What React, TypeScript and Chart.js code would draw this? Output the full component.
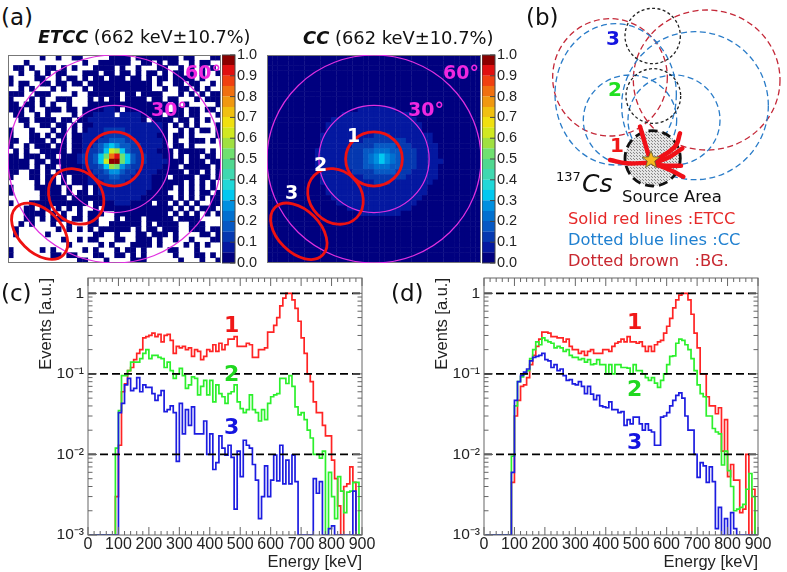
import React, { useEffect, useRef } from "react";
import { Chart, registerables } from "chart.js";

Chart.register(...registerables);

const binCenters = Array.from({ length: 90 }, (_, i) => i * 10 + 5);

const cRed = [.001,.001,.001,.001,.001,.001,.001,.001,.001,.003,.013,.06,.075,.11,.12,.15,.18,.2,.28,.29,.3,.32,.29,.31,.25,.3,.31,.26,.18,.22,.21,.22,.2,.21,.165,.2,.19,.15,.165,.2,.19,.23,.19,.24,.2,.23,.27,.27,.29,.22,.22,.22,.24,.23,.16,.16,.2,.2,.21,.33,.33,.4,.5,.7,.87,1,1,.83,.65,.45,.28,.18,.1,.08,.045,.033,.033,.023,.017,.017,.0085,.005,.0023,.001,.004,.0043,.007,.0045,.001,.001];
const cGreen = [.001,.001,.001,.001,.001,.001,.001,.001,.001,.012,.035,.095,.095,.11,.14,.14,.14,.155,.18,.2,.155,.17,.17,.16,.155,.12,.14,.11,.088,.1,.117,.095,.066,.073,.092,.088,.055,.07,.083,.055,.083,.045,.073,.057,.052,.043,.057,.06,.073,.045,.037,.033,.036,.055,.036,.033,.026,.036,.027,.043,.052,.055,.057,.088,.088,.076,.095,.07,.039,.031,.033,.027,.02,.016,.01,.01,.009,.011,.001,.006,.003,.0016,.0053,.0035,.0019,.0034,.0035,.0045,.0045,.001];
const cBlue = [.001,.001,.001,.001,.001,.001,.001,.001,.001,.001,.033,.043,.073,.088,.062,.066,.09,.06,.073,.068,.068,.057,.047,.054,.062,.034,.036,.04,.033,.0082,.043,.018,.036,.023,.039,.018,.018,.018,.026,.01,.018,.0065,.0079,.017,.012,.0098,.013,.0092,.0021,.011,.0053,.015,.013,.012,.0075,.0048,.0016,.003,.0072,.003,.0048,.0098,.0047,.013,.0043,.0085,.0043,.0098,.0046,.001,.001,.001,.001,.001,.005,.0033,.0046,.001,.001,.0012,.0013,.001,.001,.001,.001,.001,.001,.0035,.001,.001];

const dRed = [.001,.001,.001,.001,.001,.001,.001,.001,.001,.0045,.03,.047,.07,.073,.09,.13,.17,.22,.27,.33,.33,.32,.29,.29,.28,.28,.25,.27,.22,.2,.2,.18,.19,.17,.19,.2,.18,.18,.18,.2,.2,.19,.22,.24,.25,.27,.25,.29,.25,.25,.24,.25,.22,.19,.22,.19,.23,.25,.26,.32,.39,.49,.66,.83,.95,1,1,.83,.55,.32,.21,.1,.1,.052,.04,.04,.032,.038,.011,.027,.0053,.0075,.0048,.0048,.0019,.0021,.01,.001,.0037,.001];
const dGreen = [.001,.001,.001,.001,.001,.001,.001,.001,.001,.0095,.04,.08,.092,.1,.11,.155,.2,.25,.23,.28,.26,.25,.24,.21,.22,.21,.19,.2,.17,.16,.16,.15,.155,.14,.15,.13,.133,.15,.13,.13,.1,.13,.1,.13,.13,.12,.12,.118,.1,.13,.11,.11,.1,.09,.083,.09,.077,.068,.083,.1,.13,.165,.167,.24,.27,.26,.23,.2,.155,.11,.073,.057,.052,.03,.03,.021,.019,.018,.0074,.011,.0063,.004,.002,.0021,.0022,.0024,.0037,.0058,.003,.001];
const dBlue = [.001,.001,.001,.001,.001,.001,.001,.001,.001,.006,.047,.08,.096,.105,.115,.145,.16,.165,.17,.18,.15,.145,.12,.13,.11,.115,.095,.083,.085,.075,.073,.08,.07,.057,.07,.056,.048,.054,.04,.039,.038,.045,.036,.036,.033,.034,.023,.027,.024,.029,.029,.024,.02,.024,.02,.019,.013,.013,.029,.03,.033,.04,.047,.054,.058,.05,.03,.02,.02,.01,.0052,.0079,.0072,.0045,.007,.0046,.0012,.0022,.001,.0016,.001,.0019,.0012,.001,.001,.001,.001,.001,.001,.001];

const refLevels = [1, 0.1, 0.01];
const yDecades = [0.001, 0.01, 0.1, 1];
const yDecadeLabels = ["10\u207B\u00B3", "10\u207B\u00B2", "10\u207B\u00B9", "1"];
const xMajor = [0, 100, 200, 300, 400, 500, 600, 700, 800, 900];

const palette = ["#00007f","#0418a0","#0538b0","#0658c4","#0070d0","#0090e0","#00c8f0","#20d8d8","#40d8b0","#50d890","#70e070","#a0e040","#d0e820","#f0e010","#f0c010","#f09810","#f07010","#f04010","#e01010","#8b0000"];

const etccRows = [
  "......0..0..00.....0000.00000000.00...00",
  "...0..........0..000000..00.0.00..0.00..",
  ".00.0..00.0.0...0000.0..0...00..0.0.0.0.",
  "..0..0.0.00...000.00.00.0.00.0.00.0.0..0",
  "0....00..0.00.0.00.000.00.0.00.0000.0...",
  "0.00..00.00.00.000000000000.0..00.00..0.",
  "..0.0...0.0...0.00000000000..0..00.0.0..",
  "000..000....0..000000.00.0000...0.0.0.00",
  "0...0.0..000...0.0.00.0000.00.00...0.000",
  "00.00.0.0..0...000000000000000.0.0.....0",
  "000.0..000.00.0000110.00000000.00.00.00.",
  ".00..0.0....0.001111.11110000.000.00...0",
  "..00.0000.00.0011111111110.0000.00.0.0..",
  "...0..00.00.0.0011111111111110.0.0.0...0",
  "0...0...0.0.0.0111222211111110..0.0.00.0",
  "0...00.0.00.001111222221111100.00.0....0",
  "00..000.0.0.001112233322111110.0..000.0.",
  "0..0.000.00.001123565332211110.00.0.....",
  ".0.0..00000.0012236cb6322111000.00000.0.",
  "00.000.00.00012236agia63221110 0.0.00.00.",
  "0000.00.0000012236cjja63221111000.000.00",
  "0000.0.00.000012236ba53221111000.00000.0",
  "00..00.0.00000012235532211110 0000.00.0.0",
  "0...00.00.0.000112233221111000.0000.00.0",
  ".....0.00.0.000111222211111000000.0.0.0.",
  "0....00000.0..0.011111111110000.0.0.0.0.",
  "0.....0000.0.00.01111111110000..0.0.00.0",
  "......00000.0000001111111000000.0.0.0.00",
  "0...00000000000.00001110000.00.0.0.0..00",
  "...00.00.0.0.0..0.0000000000000.0.0.000.",
  "...0000.0.0..0.000..0000000000.0.0.0.0.0",
  "...00.0.000.00.00...0.000.00000.0000....",
  "..0.0...0..0...00..000000.0.0000..000...",
  ".0.......0.0.0.0.000000.0.00.000..000.00",
  ".0.....0........00..0...00.000.0....00.0",
  "..........0..0.00...00..000.0..0..0...00",
  "...........0.....0.0...0000.0....0.0.0..",
  "0.....0.0.....0.0...0.00.0....00...0....",
  "0.......00.00...00..00.0.0.....0...00.0.",
  ".............00...0....000......0...0..0",
].map((r) => r.replace(/ /g, ""));

const ccFaint = "0000000000000000000000000000000000000000";
const ccRows = [
  ccFaint, ccFaint, ccFaint, ccFaint, ccFaint, ccFaint, ccFaint, ccFaint, ccFaint, ccFaint,
  "0000000000000000011111110000000000000000",
  "0000000000000011111111111110000000000000",
  "0000000000001111111111111111000000000000",
  "0000000000011111111111111111100000000000",
  "0000000000011111111111111111100000000000",
  "0000000000111111111122211111111000000000",
  "0000000000111111112222222211111000000000",
  "0000000000111111222233332221111100000000",
  "0000000001111112223344433222111100000000",
  "0000000001111112223456543222111100000000",
  "0000000001111112223456543222111110000000",
  "0000000001111112223344433222111100000000",
  "0000000000111111222233332221111100000000",
  "0000000000111111112222222211111100000000",
  "0000000000111111111122211111111000000000",
  "0000000000011111111111111111110000000000",
  "0000000000011111111111111111110000000000",
  "0000000000001111111111111111100000000000",
  "0000000000000111111111111111000000000000",
  "0000000000000001111111111110000000000000",
  "0000000000000000011111111000000000000000",
  ccFaint, ccFaint, ccFaint, ccFaint, ccFaint, ccFaint, ccFaint, ccFaint, ccFaint,
];

// cx, cy, rx, ry, rotation (deg) in heat-map cell units
const magentaRings = [[20, 20, 20, 20, 0], [20, 20, 10.3, 10.3, 0]];
const redRings = [[20, 20, 5.3, 5.2, 0], [12.8, 12.8, 5.6, 4.9, 45], [5.95, 6.1, 6.3, 4.1, 45]];

// panel (b) shapes, in the panel's own units
const brownRings = [[270, 232, 172, 176], [560, 240, 220, 210]];
const blueRings = [[287, 283, 182, 212], [525, 317, 220, 222], [330, 360, 140, 135], [462, 360, 138, 135]];
const blackRings = [[398, 108, 83, 83], [400, 288, 82, 82]];
const sourceArea = [398, 475, 83];
const starSpot = [393, 480, 28];
const tracks = [
  [[270, 480], [320, 490], [385, 488]],
  [[360, 380], [375, 430], [390, 480]],
  [[480, 400], [465, 440], [400, 485]],
  [[487, 445], [450, 470], [405, 488]],
  [[483, 497], [440, 497], [410, 495]],
  [[490, 530], [450, 510], [400, 490]],
];

const SANS = "'Liberation Sans', Arial, sans-serif";
const HAND = "'DejaVu Sans', sans-serif";

const histFrame = {
  id: "histFrame",
  afterDraw(chart: any) {
    const { ctx, chartArea: a, scales } = chart;
    const { x, y } = scales;
    ctx.save();
    ctx.strokeStyle = "#666";
    ctx.lineWidth = 1;
    ctx.strokeRect(a.left, a.top, a.right - a.left, a.bottom - a.top);
    ctx.beginPath();
    for (let v = 0; v <= 900; v += 20) {
      const px = x.getPixelForValue(v);
      const len = v % 100 === 0 ? 8 : 4;
      ctx.moveTo(px, a.bottom); ctx.lineTo(px, a.bottom - len);
      ctx.moveTo(px, a.top); ctx.lineTo(px, a.top + len);
    }
    for (const dec of yDecades) {
      for (let m = 1; m < 10; m++) {
        const v = dec * m;
        if (v > y.max) continue;
        const py = y.getPixelForValue(v);
        const len = m === 1 ? 9 : 4.5;
        ctx.moveTo(a.left, py); ctx.lineTo(a.left + len, py);
        ctx.moveTo(a.right, py); ctx.lineTo(a.right - len, py);
      }
    }
    ctx.stroke();
    ctx.restore();
  },
};

function histConfig(red: number[], green: number[], blue: number[]): any {
  const series = (data: number[], color: string, order: number) => ({
    data: data.map((y, i) => ({ x: binCenters[i], y })),
    borderColor: color, borderWidth: 1.7, pointRadius: 0, stepped: "middle", fill: false, order,
  });
  const ref = refLevels.map((lv) => ({
    data: [{ x: 0, y: lv }, { x: 900, y: lv }],
    borderColor: "#000", borderWidth: 1.8, borderDash: [8, 4], pointRadius: 0, fill: false, order: 0,
  }));
  const noPad = (s: any) => { s.paddingTop = 0; s.paddingBottom = 0; s.paddingLeft = 0; s.paddingRight = 0; };
  return {
    type: "line",
    data: { datasets: [series(red, "#ff2424", 3), series(green, "#2cf02c", 2), series(blue, "#1c1ce0", 1), ...ref] },
    plugins: [histFrame],
    options: {
      animation: false, responsive: false, events: [],
      layout: { autoPadding: false, padding: { top: 8, right: 23, left: 0, bottom: 0 } },
      plugins: { legend: { display: false }, tooltip: { enabled: false } },
      scales: {
        x: {
          type: "linear", min: 0, max: 900,
          afterFit: (s: any) => { s.height = 37; noPad(s); },
          afterBuildTicks: (s: any) => { s.ticks = xMajor.map((value) => ({ value })); },
          grid: { display: false, drawTicks: false }, border: { display: false },
          ticks: { color: "#222", font: { family: SANS, size: 16 }, padding: 0, maxRotation: 0, autoSkip: false },
          title: { display: true, text: "Energy [keV]", align: "end", color: "#222", font: { family: SANS, size: 16.5 }, padding: { top: 0, bottom: 0 } },
        },
        y: {
          type: "logarithmic", min: 0.001, max: 1.55,
          afterFit: (s: any) => { s.width = 88; noPad(s); },
          afterBuildTicks: (s: any) => { s.ticks = yDecades.map((value) => ({ value })); },
          grid: { display: false, drawTicks: false }, border: { display: false },
          ticks: {
            color: "#222", font: { family: SANS, size: 15.5 }, padding: 4, autoSkip: false,
            callback: (v: number) => { const i = yDecades.indexOf(v); return i >= 0 ? yDecadeLabels[i] : ""; },
          },
          title: { display: true, text: "Events [a.u.]", align: "end", color: "#222", font: { family: SANS, size: 16.5 }, padding: { top: 37, bottom: 0 } },
        },
      },
    },
  };
}

const heatOverlay = {
  id: "heatOverlay",
  afterDatasetsDraw(chart: any) {
    const { ctx, chartArea: a, scales } = chart;
    const ux = (a.right - a.left) / 40;
    const uy = (a.bottom - a.top) / 40;
    const ring = (r: number[], color: string, lw: number) => {
      ctx.beginPath();
      ctx.ellipse(scales.x.getPixelForValue(r[0]), scales.y.getPixelForValue(r[1]), r[2] * ux, r[3] * uy, (r[4] * Math.PI) / 180, 0, Math.PI * 2);
      ctx.strokeStyle = color; ctx.lineWidth = lw; ctx.stroke();
    };
    ctx.save();
    ctx.strokeStyle = "#777"; ctx.lineWidth = 1;
    ctx.strokeRect(a.left + 0.5, a.top + 0.5, a.right - a.left - 1, a.bottom - a.top - 1);
    magentaRings.forEach((r) => ring(r, "#e030e0", 1.2));
    redRings.forEach((r) => ring(r, "#ee1111", 2.8));
    ctx.restore();
  },
};

function heatConfig(rows: string[], w: number): any {
  const points: any[] = [];
  const colors: string[] = [];
  rows.forEach((row, r) => {
    for (let c = 0; c < 40; c++) {
      const ch = row.charAt(c);
      if (!ch || ch === ".") continue;
      points.push({ x: c + 0.5, y: 39 - r + 0.5 });
      colors.push(palette[parseInt(ch, 36)]);
    }
  });
  return {
    type: "scatter",
    data: { datasets: [{ data: points, backgroundColor: colors, pointStyle: "rect", pointRadius: (w / 40 + 0.4) / Math.SQRT2, borderWidth: 0, clip: false }] },
    plugins: [heatOverlay],
    options: {
      animation: false, responsive: false, events: [],
      layout: { autoPadding: false, padding: 0 },
      plugins: { legend: { display: false }, tooltip: { enabled: false } },
      scales: {
        x: { type: "linear", min: 0, max: 40, display: false },
        y: { type: "linear", min: 0, max: 40, display: false },
      },
    },
  };
}

const barTicks = {
  id: "barTicks",
  afterDraw(chart: any) {
    const { ctx, chartArea: a, scales } = chart;
    ctx.save();
    ctx.strokeStyle = "#444"; ctx.lineWidth = 1;
    ctx.strokeRect(a.left, a.top, a.right - a.left, a.bottom - a.top);
    ctx.beginPath();
    for (let i = 0; i <= 10; i++) {
      const py = scales.y.getPixelForValue(i / 10);
      ctx.moveTo(a.right, py); ctx.lineTo(a.right - 5, py);
    }
    ctx.stroke();
    ctx.restore();
  },
};

function barConfig(): any {
  return {
    type: "bar",
    data: {
      labels: [""],
      datasets: palette.map((c) => ({ data: [0.05], backgroundColor: c, borderColor: c, borderWidth: 0.4, barPercentage: 1, categoryPercentage: 1, stack: "z" })),
    },
    plugins: [barTicks],
    options: {
      animation: false, responsive: false, events: [],
      layout: { autoPadding: false, padding: { top: 10, bottom: 10, left: 0, right: 0 } },
      plugins: { legend: { display: false }, tooltip: { enabled: false } },
      scales: {
        x: { stacked: true, display: false },
        y: {
          stacked: true, position: "right", min: 0, max: 1,
          afterFit: (s: any) => { s.width = 37; s.paddingTop = 0; s.paddingBottom = 0; },
          grid: { display: false, drawTicks: false }, border: { display: false },
          ticks: { stepSize: 0.1, color: "#222", padding: 2, font: { family: SANS, size: 14.5 }, callback: (v: number) => v.toFixed(1) },
        },
      },
    },
  };
}

const ringPath = (ctx: any, s: any, r: number[]) => {
  ctx.beginPath();
  ctx.ellipse(s.x.getPixelForValue(r[0]), s.y.getPixelForValue(r[1]), r[2] / 3, r[3] / 3, 0, 0, Math.PI * 2);
};

const schematic = {
  id: "schematic",
  beforeDatasetsDraw(chart: any) {
    const { ctx, scales } = chart;
    ctx.save();
    ctx.lineWidth = 1.3;
    ctx.setLineDash([6, 3.5]);
    ctx.strokeStyle = "#c42838";
    brownRings.forEach((r) => { ringPath(ctx, scales, r); ctx.stroke(); });
    ctx.strokeStyle = "#2a7cc8";
    blueRings.forEach((r) => { ringPath(ctx, scales, r); ctx.stroke(); });
    ctx.strokeStyle = "#222";
    ctx.setLineDash([3, 2.4]);
    blackRings.forEach((r) => { ringPath(ctx, scales, r); ctx.stroke(); });
    const tile = document.createElement("canvas");
    tile.width = 3; tile.height = 3;
    const t = tile.getContext("2d") as any;
    t.fillStyle = "#e4e4e4"; t.fillRect(0, 0, 3, 3);
    t.fillStyle = "#888"; t.fillRect(0, 0, 1, 1); t.fillRect(2, 2, 1, 1);
    ringPath(ctx, scales, [sourceArea[0], sourceArea[1], sourceArea[2], sourceArea[2]]);
    ctx.fillStyle = ctx.createPattern(tile, "repeat");
    ctx.fill();
    ctx.setLineDash([9, 5]);
    ctx.lineWidth = 2.8;
    ctx.strokeStyle = "#111";
    ctx.stroke();
    ctx.restore();
  },
  afterDatasetsDraw(chart: any) {
    const { ctx, scales } = chart;
    const cx = scales.x.getPixelForValue(starSpot[0]);
    const cy = scales.y.getPixelForValue(starSpot[1]);
    const R = starSpot[2] / 3;
    ctx.save();
    ctx.beginPath();
    for (let i = 0; i < 10; i++) {
      const rad = i % 2 === 0 ? R : R * 0.42;
      const ang = -Math.PI / 2 + (i * Math.PI) / 5;
      ctx[i === 0 ? "moveTo" : "lineTo"](cx + rad * Math.cos(ang), cy + rad * Math.sin(ang));
    }
    ctx.closePath();
    ctx.fillStyle = "#f6b91e"; ctx.fill();
    ctx.strokeStyle = "#553"; ctx.lineWidth = 0.8; ctx.stroke();
    ctx.restore();
  },
};

function schematicConfig(): any {
  return {
    type: "scatter",
    data: {
      datasets: tracks.map((tr) => ({
        data: tr.map(([x, y]) => ({ x, y })),
        showLine: true, tension: 0.4, borderColor: "#f01018", borderWidth: 4.5, pointRadius: 0, borderCapStyle: "round",
      })),
    },
    plugins: [schematic],
    options: {
      animation: false, responsive: false, events: [],
      layout: { autoPadding: false, padding: 0 },
      plugins: { legend: { display: false }, tooltip: { enabled: false } },
      scales: {
        x: { type: "linear", min: 0, max: 801, display: false },
        y: { type: "linear", min: 0, max: 825, reverse: true, display: false },
      },
    },
  };
}

function Plot({ make, left, top, width, height }: any) {
  const ref = useRef<HTMLCanvasElement>(null);
  useEffect(() => {
    const chart = new Chart(ref.current as any, make());
    return () => chart.destroy();
  }, []);
  return <canvas ref={ref} width={width} height={height} style={{ position: "absolute", left, top, width, height }} />;
}

function Label({ x, y, size, color = "#111", bold = false, italic = false, family = HAND, children }: any) {
  return (
    <div style={{ position: "absolute", left: x, top: y, transform: "translateY(-50%)", fontFamily: family, fontSize: size, color, fontWeight: bold ? 700 : 400, fontStyle: italic ? "italic" : "normal", whiteSpace: "pre", lineHeight: 1 }}>
      {children}
    </div>
  );
}

export default function App() {
  return (
    <div style={{ position: "absolute", left: 0, top: 0, width: 787, height: 572, overflow: "hidden", background: "#fff", filter: "blur(0.35px)" }}>
      <Plot make={() => heatConfig(etccRows, 213)} left={8} top={55} width={213} height={208} />
      <Plot make={barConfig} left={222} top={45} width={50} height={228} />
      <Plot make={() => heatConfig(ccRows, 214)} left={267} top={55} width={214} height={208} />
      <Plot make={barConfig} left={482} top={45} width={50} height={228} />
      <Plot make={schematicConfig} left={520} top={0} width={267} height={275} />
      <Plot make={() => histConfig(cRed, cGreen, cBlue)} left={0} top={270} width={385} height={302} />
      <Plot make={() => histConfig(dRed, dGreen, dBlue)} left={396} top={270} width={385} height={302} />

      <Label x={1} y={17} size={23}>(a)</Label>
      <Label x={38} y={38} size={17.7}><b><i>ETCC</i></b> (662 keV±10.7%)</Label>
      <Label x={303} y={38} size={17.9}><b><i>CC</i></b> (662 keV±10.7%)</Label>
      <Label x={526} y={17} size={23}>(b)</Label>
      <Label x={1} y={293} size={23}>(c)</Label>
      <Label x={391} y={293} size={23}>(d)</Label>

      <Label x={185} y={72} size={19} bold color="#f028e0">60°</Label>
      <Label x={151} y={109} size={19} bold color="#f028e0">30°</Label>
      <Label x={443} y={72} size={19} bold color="#f028e0">60°</Label>
      <Label x={408} y={109} size={19} bold color="#f028e0">30°</Label>
      <Label x={347} y={135} size={19} bold color="#fff">1</Label>
      <Label x={314} y={164} size={19} bold color="#fff">2</Label>
      <Label x={285} y={192} size={19} bold color="#fff">3</Label>

      <Label x={606} y={38} size={20} bold color="#1414e0">3</Label>
      <Label x={608} y={89} size={20} bold color="#20e020">2</Label>
      <Label x={610} y={145} size={20} bold color="#f01818">1</Label>
      <Label x={556} y={176} size={13}>137</Label>
      <Label x={582} y={183} size={25} italic>Cs</Label>
      <Label x={622} y={197} size={16.5}>Source Area</Label>
      <Label x={568} y={219} size={16.3} color="#e62828">Solid red lines :ETCC</Label>
      <Label x={568} y={240} size={16.3} color="#2080d0">Dotted blue lines :CC</Label>
      <Label x={568} y={261} size={16.3} color="#c82830">Dotted brown   :BG.</Label>

      <Label x={224} y={325} size={22} bold color="#f01818">1</Label>
      <Label x={224} y={374} size={22} bold color="#20d820">2</Label>
      <Label x={224} y={427} size={22} bold color="#1414e0">3</Label>
      <Label x={627} y={322} size={22} bold color="#f01818">1</Label>
      <Label x={627} y={389} size={22} bold color="#20d820">2</Label>
      <Label x={627} y={442} size={22} bold color="#1414e0">3</Label>
    </div>
  );
}
